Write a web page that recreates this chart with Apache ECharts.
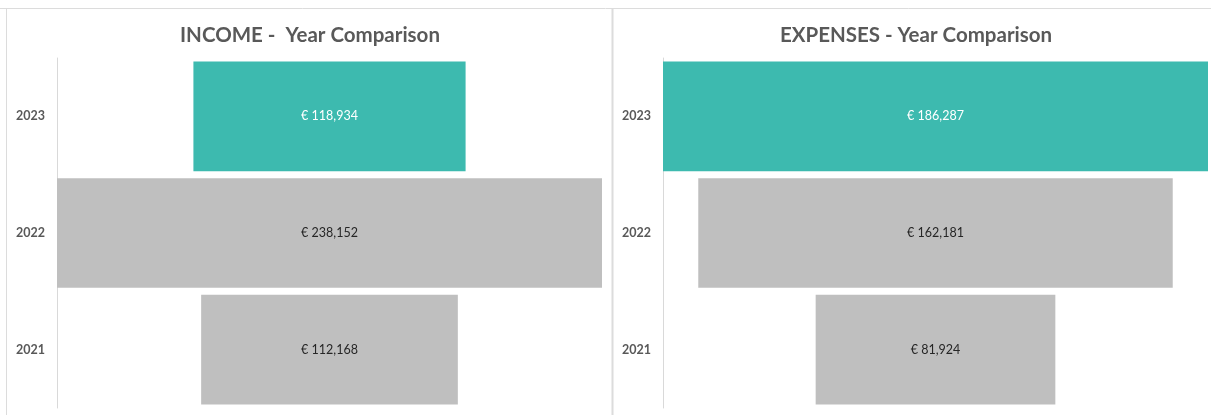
<!DOCTYPE html>
<html><head><meta charset="utf-8">
<script src="https://cdn.jsdelivr.net/npm/echarts@6/dist/echarts.min.js"></script>
<style>html,body{margin:0;padding:0;background:#fff}#c{width:1211px;height:415px}</style>
</head><body><div id="c"></div>
<script>
const years = ['2021', '2022', '2023'];
const incomeValues = [112168, 238152, 118934];
const expenseValues = [81924, 162181, 186287];
const highlightYear = '2023';
const titles = ['INCOME -  Year Comparison', 'EXPENSES - Year Comparison'];

const TEAL = '#3dbaaf', GRAY = '#bfbfbf';
function fmt(v){ return '€ ' + v.toString().replace(/\B(?=(\d{3})+(?!\d))/g, ','); }

const chart = echarts.init(document.getElementById('c'), null, {renderer:'canvas'});
const panels = [
  {vals: incomeValues, left: 57},
  {vals: expenseValues, left: 663}
];
const grids = [], xAxes = [], yAxes = [], series = [];
panels.forEach((p, i) => {
  const max = Math.max(...p.vals);
  grids.push({left: p.left, width: 545, top: 58, height: 350});
  xAxes.push({type:'value', gridIndex:i, min:0, max:max, show:false});
  yAxes.push({type:'category', gridIndex:i, data:years,
    axisLine:{show:true, lineStyle:{color:'#d9d9d9', width:1}},
    axisTick:{show:false},
    axisLabel:{color:'#595959', fontWeight:'bold', fontSize:12.5, fontFamily:'Lato', margin:12}});
  series.push({type:'bar', xAxisIndex:i, yAxisIndex:i, stack:'s'+i, silent:true,
    itemStyle:{color:'transparent'}, barCategoryGap:'6%',
    data:p.vals.map(v => (max - v) / 2)});
  series.push({type:'bar', xAxisIndex:i, yAxisIndex:i, stack:'s'+i, barCategoryGap:'6%',
    data:p.vals.map((v, k) => ({value:v,
      itemStyle:{color: years[k] === highlightYear ? TEAL : GRAY},
      label:{color: years[k] === highlightYear ? '#ffffff' : '#262626'}})),
    label:{show:true, position:'inside', fontSize:12.5, fontFamily:'Lato',
      formatter: d => fmt(d.value)}});
});

chart.setOption({
  animation:false,
  title:[
    {text:titles[0], left:305, top:20, textAlign:'center',
      textStyle:{fontSize:20.5, fontWeight:'bold', color:'#595959', fontFamily:'Lato'}},
    {text:titles[1], left:911, top:20, textAlign:'center',
      textStyle:{fontSize:20.5, fontWeight:'bold', color:'#595959', fontFamily:'Lato'}}
  ],
  graphic:[
    {type:'line', shape:{x1:0, y1:8.5, x2:1211, y2:8.5}, style:{stroke:'#dcdcdc', lineWidth:1}},
    {type:'line', shape:{x1:6.5, y1:8, x2:6.5, y2:415}, style:{stroke:'#dcdcdc', lineWidth:1}},
    {type:'line', shape:{x1:612.5, y1:8, x2:612.5, y2:415}, style:{stroke:'#dcdcdc', lineWidth:2}}
  ],
  grid:grids, xAxis:xAxes, yAxis:yAxes, series:series
});
</script></body></html>
